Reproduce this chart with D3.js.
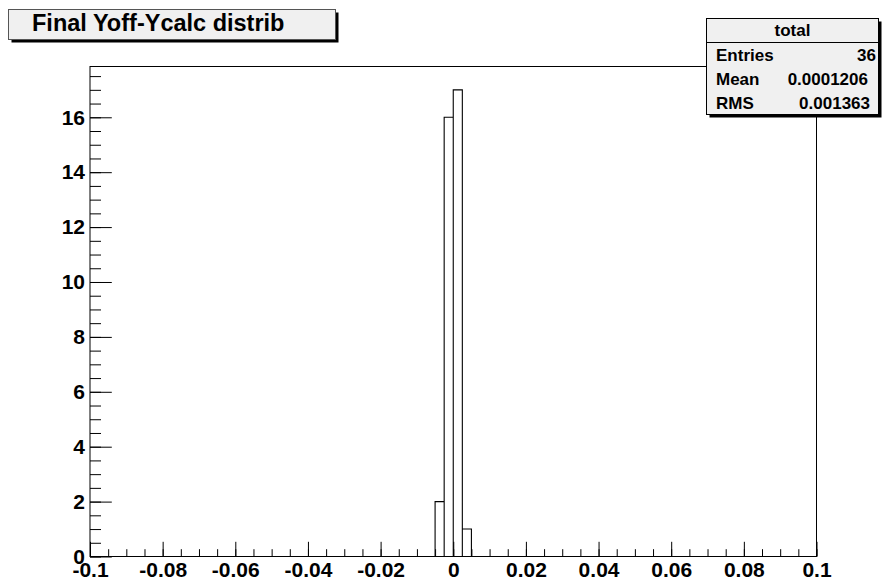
<!DOCTYPE html>
<html>
<head>
<meta charset="utf-8">
<script src="https://cdn.jsdelivr.net/npm/d3@7"></script>
<style>
  html, body { margin: 0; padding: 0; background: #fff; }
  svg { display: block; }
  text { font-family: "Liberation Sans", Arial, Helvetica, sans-serif; font-weight: bold; fill: #000; }
</style>
</head>
<body>
<svg id="chart" width="883" height="587"></svg>
<script>
// ---- data ----
const titleText = "Final Yoff-Ycalc distrib";
const xRange = [-0.1, 0.1];
const yRange = [0, 17.85];
const binWidth = 0.0025;
const binStarts = [-0.005, -0.0025, 0, 0.0025];
const binCounts = [2, 16, 17, 1];
const xTicks = [-0.1, -0.08, -0.06, -0.04, -0.02, 0, 0.02, 0.04, 0.06, 0.08, 0.1];
const xTickLabels = ["-0.1", "-0.08", "-0.06", "-0.04", "-0.02", "0", "0.02", "0.04", "0.06", "0.08", "0.1"];
const yTicks = [0, 2, 4, 6, 8, 10, 12, 14, 16];
const yTickLabels = ["0", "2", "4", "6", "8", "10", "12", "14", "16"];
const statsTitle = "total";
const statsNames = ["Entries", "Mean", "RMS"];
const statsValues = ["36", "0.0001206", "0.001363"];

// ---- layout ----
const svg = d3.select("#chart");
const L = 90, R = 816.5, T = 66.5, B = 556.5;
const x = d3.scaleLinear().domain(xRange).range([L, R]);
const y = d3.scaleLinear().domain(yRange).range([B, T]);

// frame
svg.append("rect").attr("x", L).attr("y", T).attr("width", R - L).attr("height", B - T)
  .attr("fill", "none").attr("stroke", "#000").attr("stroke-width", 1);

// histogram step line
const pts = [[xRange[0], 0]];
binStarts.forEach((s, i) => {
  pts.push([s, 0]);
  pts.push([s, binCounts[i]]);
  pts.push([s + binWidth, binCounts[i]]);
  pts.push([s + binWidth, 0]);
});
pts.push([xRange[1], 0]);
svg.append("path")
  .attr("d", d3.line().x(d => x(d[0])).y(d => y(d[1]))(pts))
  .attr("fill", "none").attr("stroke", "#000").attr("stroke-width", 1.1);

// x axis
const xMajorLen = 14.7, xMinorLen = 7.3;
const xMinor = d3.range(-0.1, 0.1001, 0.005);
const gxm = svg.append("g").attr("transform", `translate(0,${B})`)
  .call(d3.axisBottom(x).tickValues(xMinor).tickSize(-xMinorLen).tickFormat(""));
const gx = svg.append("g").attr("transform", `translate(0,${B})`)
  .call(d3.axisBottom(x).tickValues(xTicks).tickSize(-xMajorLen).tickPadding(6)
    .tickFormat((d, i) => xTickLabels[i]));
[gx, gxm].forEach(g => {
  g.select(".domain").remove();
  g.selectAll("line").attr("stroke", "#000").attr("stroke-width", 1);
});
gx.selectAll("text").style("font-size", "21px").style("font-family", null).attr("fill", "#000");

// y axis
const yMajorLen = 21.8, yMinorLen = 11;
const yMinor = d3.range(0, 17.51, 0.5);
const gym = svg.append("g").attr("transform", `translate(${L},0)`)
  .call(d3.axisLeft(y).tickValues(yMinor).tickSize(-yMinorLen).tickFormat(""));
const gy = svg.append("g").attr("transform", `translate(${L},0)`)
  .call(d3.axisLeft(y).tickValues(yTicks).tickSize(-yMajorLen).tickPadding(5)
    .tickFormat((d, i) => yTickLabels[i]));
[gy, gym].forEach(g => {
  g.select(".domain").remove();
  g.selectAll("line").attr("stroke", "#000").attr("stroke-width", 1);
});
gy.selectAll("text").style("font-size", "21px").style("font-family", null).attr("fill", "#000").attr("dy", "0.32em");

// title box
const tb = {x: 8.5, y: 9.5, w: 327, h: 30};
svg.append("rect").attr("x", tb.x + 3).attr("y", tb.y + 3).attr("width", tb.w).attr("height", tb.h).attr("fill", "#000");
svg.append("rect").attr("x", tb.x).attr("y", tb.y).attr("width", tb.w).attr("height", tb.h)
  .attr("fill", "#f0f0f0").attr("stroke", "#555").attr("stroke-width", 1);
svg.append("text").attr("x", 32).attr("y", 31).style("font-size", "23.5px").text(titleText);

// stats box
const sb = {x: 706.5, y: 18.5, w: 172, h: 96};
const rowH = 24;
svg.append("rect").attr("x", sb.x + 3).attr("y", sb.y + 3).attr("width", sb.w).attr("height", sb.h).attr("fill", "#000");
svg.append("rect").attr("x", sb.x).attr("y", sb.y).attr("width", sb.w).attr("height", sb.h)
  .attr("fill", "#f0f0f0").attr("stroke", "#000").attr("stroke-width", 1);
svg.append("line").attr("x1", sb.x).attr("x2", sb.x + sb.w).attr("y1", sb.y + rowH).attr("y2", sb.y + rowH)
  .attr("stroke", "#000").attr("stroke-width", 1);
svg.append("text").attr("x", sb.x + sb.w / 2).attr("y", sb.y + 17.5).attr("text-anchor", "middle")
  .style("font-size", "17px").text(statsTitle);
const valueRight = [876, 868, 870];
statsNames.forEach((n, i) => {
  const by = sb.y + rowH * (i + 1) + 18;
  svg.append("text").attr("x", sb.x + 9.5).attr("y", by).style("font-size", "17px").text(n);
  svg.append("text").attr("x", valueRight[i]).attr("y", by).attr("text-anchor", "end")
    .style("font-size", "17px").text(statsValues[i]);
});
</script>
</body>
</html>
